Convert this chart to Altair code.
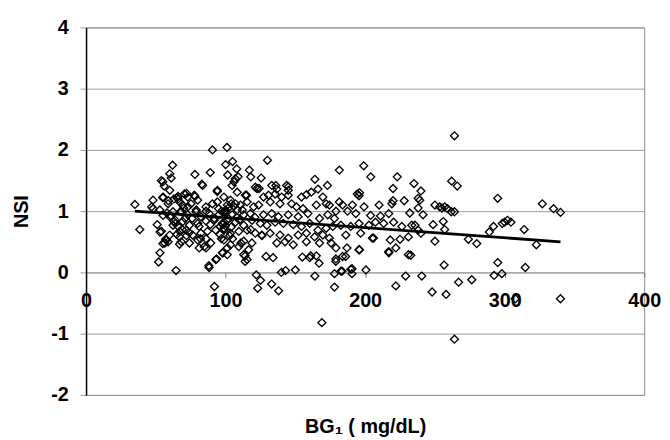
import altair as alt
import pandas as pd

# ---- scatter points: BG1 (mg/dL) and NSI ----
outer_bg1 = [35, 38.5, 48, 48, 53, 52, 51, 53, 55, 56, 55, 55, 57, 60, 60, 62, 61, 59, 64.5, 58,
             61, 63, 66, 67, 69, 72, 73, 74, 78, 78, 81, 82, 83, 86, 86, 88, 89, 90.6, 92, 93.6,
             94, 96, 98, 100, 101, 101.5, 105, 106, 108, 109, 111, 114, 114, 115, 117, 118, 122, 123, 125, 124,
             126, 125.5, 130, 129, 134, 133, 138, 140, 143, 136, 145, 150, 155, 161, 164, 164, 165, 167, 169, 173,
             178, 178, 179, 181.5, 183.5, 186, 187, 190.6, 190.6, 196, 196, 199, 200.6, 204, 206, 210, 217, 220, 222, 223,
             222, 225, 220, 228, 229, 232, 232.7, 235, 238, 240.6, 240, 238, 241.5, 248, 250, 250, 255, 256.6, 258, 256,
             257, 259, 262, 264, 264, 266, 264, 267, 274, 276.4, 280, 289, 292, 292.4, 295, 295, 298, 300, 302, 304.5,
             307.6, 314, 314.8, 322.7, 327, 335, 340, 340]
outer_nsi = [1.11, 0.70, 1.18, 1.04, 0.32, 0.17, 0.78, 0.66, 1.48, 1.41, 1.22, 0.47, 0.54, 1.34, 1.61, 1.75, 1.54, 1.17, 0.03, 0.97,
             0.92, 0.83, 1.24, 0.46, 0.70, 1.29, 1.07, 0.65, 1.24, 1.60, 0.75, 0.55, 1.44, 0.55, 0.40, 0.11, 1.63, 2.00, -0.23, 0.22,
             1.32, 0.75, 0.32, 1.76, 2.04, 1.59, 1.81, 1.48, 1.69, 1.56, 0.48, 0.27, 0.18, 1.26, 1.67, 1.56, -0.04, -0.26, -0.13, 1.37,
             0.60, 1.54, 1.83, 0.26, 0.24, -0.19, -0.30, 0.00, 0.03, 1.42, 1.40, 0.04, 0.25, 0.27, -0.06, 1.52, 0.27, 0.15, -0.82, 1.42,
             -0.24, -0.02, 0.22, 1.67, 0.02, 0.26, 0.40, 0.06, -0.02, 0.37, 1.30, 1.74, 0.04, 1.56, 0.56, 1.10, 0.32, 1.37, -0.22, 1.56,
             0.40, 0.54, 1.17, 1.17, -0.06, 0.97, 0.28, 1.45, 1.21, -0.06, 1.33, 1.05, 0.94, -0.32, 0.51, 1.10, 1.05, 0.12, -0.36, 0.83,
             0.70, 1.04, 1.49, 2.23, -1.09, 1.41, 0.99, -0.16, 0.54, -0.12, 0.47, 0.66, 0.75, -0.05, 1.21, 0.16, -0.02, 0.82, 0.85, 0.82,
             -0.43, 0.70, 0.08, 0.45, 1.12, 1.04, 0.98, -0.43]

left_bg1 = [54, 55.2, 47, 52.9, 58.8, 63, 54, 57.6, 56.4, 60, 55.2, 60, 62.3, 64, 62.3, 58.8,
            65, 66, 64, 66, 68, 65, 67, 70, 71]
left_nsi = [1.50, 1.23, 1.07, 1.02, 1.12, 1.20, 0.67, 0.53, 0.48, 0.61, 0.93, 0.91, 0.99, 0.85, 0.77, 0.50,
            1.22, 1.20, 0.80, 0.75, 1.00, 0.62, 0.58, 1.05, 0.88]

mid_bg1 = [83.5, 107, 104.7, 94.1, 108.3, 114.2, 121.3, 70.5, 72.9, 77.6, 67, 69.3, 75.2, 80, 85.9, 90.6, 94.1, 98.8, 101.2, 103.5,
           107.1, 110.6, 115.4, 120.1, 68.2, 72.9, 78.8, 82.3, 88.2, 95.3, 100, 104.7, 108.3, 113, 117.7, 69.3, 74.1, 80, 85.9, 91.8,
           97.7, 101.2, 107.1, 113, 118.9, 67, 71.7, 76.4, 82.3, 87, 92.9, 98.8, 103.5, 109.5, 115.4, 121.3, 68.2, 74.1, 80, 81.1,
           84.7, 89.4, 98.8, 101.2, 103.5, 109.5, 113, 116.5, 118.9, 97.7, 101.2, 113, 115.4, 93, 88.2,
           97, 99, 100, 98, 100, 102, 104, 106, 103, 97, 105, 108,
           92, 95, 99, 102, 96, 104, 110, 112, 89, 86, 76, 72, 79, 118, 121]
mid_nsi = [1.42, 1.53, 1.42, 1.34, 1.31, 1.26, 1.39, 1.28, 1.23, 1.26, 1.15, 1.10, 1.12, 1.18, 1.07, 1.12, 1.15, 1.23, 1.10, 1.18,
           1.12, 1.10, 1.15, 1.07, 0.99, 0.94, 0.99, 0.91, 0.96, 0.94, 0.99, 0.94, 1.02, 0.94, 0.96, 0.83, 0.77, 0.80, 0.84, 0.85,
           0.80, 0.85, 0.82, 0.77, 0.85, 0.67, 0.69, 0.61, 0.64, 0.67, 0.69, 0.72, 0.64, 0.67, 0.69, 0.64, 0.50, 0.48, 0.53, 0.40,
           0.42, 0.48, 0.53, 0.40, 0.45, 0.42, 0.51, 0.37, 0.48, 0.32, 0.29, 0.29, 0.21, 0.21, 0.08,
           1.00, 0.98, 1.02, 0.78, 0.76, 1.05, 1.12, 1.08, 0.60, 0.55, 0.55, 0.90,
           0.88, 1.04, 0.70, 0.88, 0.62, 0.74, 0.86, 1.02, 0.78, 1.00, 0.88, 0.60, 1.02, 0.70, 0.90]

center_bg1 = [122.5, 133.1, 136.7, 143.7, 144.9, 127.2, 130.8, 135.5, 140.2, 144.9, 154.4, 157.9, 161.4, 166.2, 169.7, 172.1, 174.4,
              123.7, 132, 139, 147.3, 150.8, 155.5, 165, 127.2, 133.1, 137.8, 144.9, 152, 159, 167.3, 173.2, 178, 124.9, 129.6,
              135.5, 141.4, 148.5, 154.4, 160.3, 166.2, 172.1, 176.8, 126, 131.9, 139, 144.9, 152, 157.9, 163.8, 169.7, 174.4,
              136.7, 142.6, 148.5, 157.9, 167.3, 175.6, 160.3]
center_nsi = [1.37, 1.42, 1.36, 1.42, 1.34, 1.23, 1.26, 1.28, 1.23, 1.26, 1.23, 1.27, 1.31, 1.36, 1.23, 1.12, 1.10,
              1.10, 1.15, 1.12, 1.12, 1.07, 1.04, 1.10, 0.94, 0.96, 0.91, 0.94, 0.91, 0.96, 0.88, 0.94, 0.88, 0.80, 0.77,
              0.82, 0.80, 0.78, 0.75, 0.80, 0.69, 0.72, 0.75, 0.61, 0.64, 0.61, 0.56, 0.61, 0.64, 0.58, 0.61, 0.56,
              0.48, 0.50, 0.45, 0.50, 0.48, 0.48, 0.24]

right_bg1 = [194.4, 195.6, 181.5, 183.8, 190.9, 199.2, 219.2, 179.1, 187.4, 193.3, 203.9, 211, 216.9, 182.6, 189.7, 195.6,
             202.7, 207.4, 213.3, 220.4, 226.3, 233.4, 186.2, 196.8, 205.1, 218, 231, 195.6, 179.1, 183.8, 179, 216.9,
             231, 182.6, 189.7, 239.2, 253.4, 257, 261.7, 248.7, 235.7, 238, 240, 298.3]
right_nsi = [1.28, 1.25, 1.15, 1.10, 1.10, 1.07, 1.12, 1.00, 1.00, 0.96, 0.93, 0.92, 0.96, 0.77, 0.75, 0.80,
             0.77, 0.82, 0.80, 0.82, 0.75, 0.77, 0.61, 0.64, 0.56, 0.53, 0.58, 0.37, 0.40, 0.26, 0.18, 0.34,
             0.29, 0.02, 0.05, 1.18, 1.07, 1.07, 0.99, 0.78, 0.77, 0.69, 0.64, 0.80]

# ---- fitted trend line end points ----
fit_bg1 = [35, 340]
fit_nsi = [1.00, 0.50]

x_ticks = [0, 100, 200, 300, 400]
y_ticks = [-2, -1, 0, 1, 2, 3, 4]

pts = pd.DataFrame({
    "bg1": outer_bg1 + left_bg1 + mid_bg1 + center_bg1 + right_bg1,
    "nsi": outer_nsi + left_nsi + mid_nsi + center_nsi + right_nsi,
})
fit = pd.DataFrame({"bg1": fit_bg1, "nsi": fit_nsi})

FONT = "Liberation Sans"
W, H = 565, 372

xscale = alt.Scale(domain=[0, 400], nice=False, zero=False)
yscale = alt.Scale(domain=[-2, 4], nice=False, zero=False)

x_axis = alt.Axis(
    values=x_ticks, offset=-H / 3, grid=False, labelFlush=False,
    labelExpr="'' + datum.value",
    domain=True, domainColor="#999999", domainWidth=1,
    ticks=True, tickSize=5, tickColor="#777777",
    labelFont=FONT, labelFontSize=20, labelFontWeight="bold", labelColor="black",
    labelPadding=14, labelBaseline="top",
    title="BG₁ ( mg/dL)", titleFont=FONT, titleFontSize=20, titleFontWeight="bold",
    titleColor="black", titleY=156, titleBaseline="middle",
)
y_axis = alt.Axis(
    values=y_ticks, grid=True, gridColor="#999999", gridWidth=1,
    labelExpr="'' + datum.value",
    domain=True, domainColor="black", domainWidth=1.5,
    ticks=True, tickSize=6, tickColor="#999999",
    labelFont=FONT, labelFontSize=20, labelFontWeight="bold", labelColor="black",
    labelPadding=12,
    title="NSI", titleFont=FONT, titleFontSize=20, titleFontWeight="bold",
    titleColor="black", titleX=-65, titleY=H / 2, titleAngle=-90,
    titleAlign="center", titleBaseline="middle",
)

points = alt.Chart(pts).mark_point(
    shape="diamond", filled=False, color="black", size=64, strokeWidth=1.35, opacity=1
).encode(
    x=alt.X("bg1:Q", scale=xscale, axis=x_axis),
    y=alt.Y("nsi:Q", scale=yscale, axis=y_axis),
)

trend = alt.Chart(fit).mark_line(color="black", strokeWidth=2.8).encode(
    x=alt.X("bg1:Q", scale=xscale),
    y=alt.Y("nsi:Q", scale=yscale),
)

chart = alt.layer(points, trend).properties(
    width=W, height=H, autosize="none",
    padding={"left": 79, "top": 17, "right": 18, "bottom": 43},
    background="white",
).configure_view(stroke="#888888", strokeWidth=1)

chart.save("out.html", embed_options={"renderer": "svg", "actions": False})
